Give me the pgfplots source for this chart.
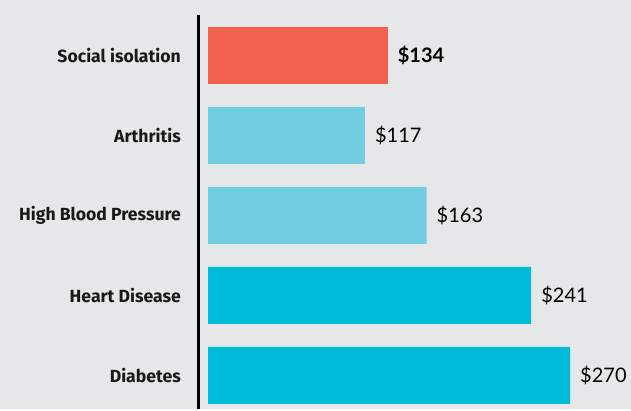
\documentclass[border=0pt]{standalone}
\usepackage{pgfplots}
\pgfplotsset{compat=1.18}
\usepackage{fontspec}
\setmainfont{Fira Sans}
\newfontfamily\valfont{Lato}
\definecolor{bg}{HTML}{E6E7E8}
\definecolor{cred}{HTML}{F2634E}
\definecolor{clight}{HTML}{71CDE2}
\definecolor{ccyan}{HTML}{00BCD9}
\begin{document}
\begin{tikzpicture}[x=1pt,y=1pt]
\fill[bg] (0,0) rectangle (631,409);
\begin{axis}[
  at={(198pt,0pt)}, anchor=south west,
  scale only axis, width=433pt, height=394pt,
  xmin=-7.46, xmax=315.5, ymin=-0.419, ymax=4.506,
  xbar, bar width=57pt, bar shift=0pt,
  axis x line=none, axis y line*=left,
  axis line style={line width=3pt, black, -},
  ytick={0,1,2,3,4},
  yticklabels={Diabetes, Heart Disease, High Blood Pressure, Arthritis, Social isolation},
  yticklabel style={font=\bfseries\fontsize{17.6}{18}\selectfont, text=black!90, inner sep=0pt, xshift=-17pt},
  major tick length=0pt,
  point meta=x,
  nodes near coords={\$\pgfmathprintnumber[assume math mode=true]{\pgfplotspointmeta}},
  nodes near coords style={anchor=west, inner sep=0pt, xshift=10pt, font=\valfont\fontsize{20}{20}\selectfont, text=black},
]
\addplot[fill=ccyan, draw=none] coordinates {(270,0) (241,1)};
\addplot[fill=clight, draw=none] coordinates {(163,2) (117,3)};
\addplot[fill=cred, draw=none, nodes near coords style={font=\valfont\bfseries\fontsize{20}{20}\selectfont}] coordinates {(134,4)};
\end{axis}
\end{tikzpicture}
\end{document}
